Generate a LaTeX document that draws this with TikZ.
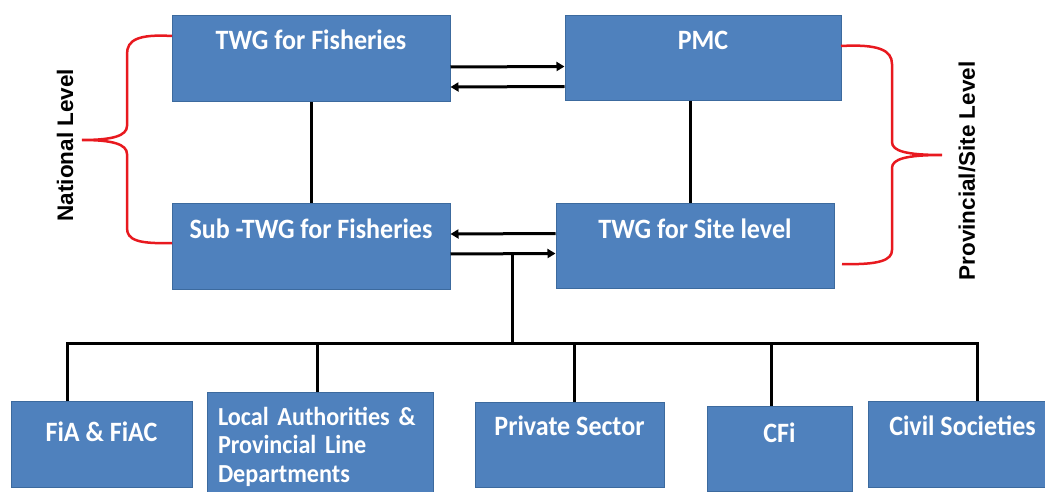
\documentclass[tikz,border=0pt]{standalone}
\usepackage{fontspec}
\usetikzlibrary{arrows.meta}
\newfontfamily\boxfont{Carlito}[FakeStretch=0.93]
\newfontfamily\lvlfont{Liberation Sans}
\definecolor{boxblue}{HTML}{4F81BD}
\definecolor{boxline}{HTML}{3C6A9E}
\definecolor{bracered}{HTML}{E8191F}
\begin{document}
\begin{tikzpicture}[x=1pt,y=-1pt,
	unit/.style={draw=boxline,line width=1pt,fill=boxblue,text=white,inner sep=0pt,anchor=base,font=\boxfont\bfseries\fontsize{28}{28.5}\selectfont},
	lvl/.style={rotate=90,font=\lvlfont\bfseries\fontsize{22.5}{24}\selectfont},
	link/.style={line width=3pt},
	flow/.style={line width=3pt,-{Triangle[length=8pt,width=9pt]}},
	brace/.style={bracered,line width=2.5pt}]
	\useasboundingbox (0,0) rectangle (1045,492);
	\node[unit,minimum width=278pt,text height=34pt,text depth=52pt] (twg) at (311,50) {TWG for Fisheries};
	\node[unit,minimum width=276pt,text height=34pt,text depth=51pt] (pmc) at (703,50) {PMC};
	\node[unit,minimum width=278pt,text height=34pt,text depth=51pt] (sub) at (311,238) {Sub -TWG for Fisheries};
	\node[unit,minimum width=278pt,text height=34pt,text depth=50pt] (site) at (695,238) {TWG for Site level};
	\node[unit,minimum width=181pt,text height=40pt,text depth=46pt] (fia) at (101.5,441) {FiA \& FiAC};
	\node[unit,font=\boxfont\bfseries\fontsize{26}{28.5}\selectfont,minimum width=226pt,text width=204pt,text height=33pt,text depth=80pt] (loc) at (320,425) {\begin{tabular}[t]{@{}l@{}}Local Authorities \&\\Provincial Line\\Departments\end{tabular}};
	\node[unit,minimum width=189pt,text height=33pt,text depth=52pt] (pri) at (569.5,435) {Private Sector};
	\node[unit,minimum width=145pt,text height=36pt,text depth=49pt] (cfi) at (779.5,442) {CFi};
	\node[unit,minimum width=189pt,text height=34pt,text depth=52pt] (civ) at (962.5,435) {Civil Societies};
	\node[lvl] (natl) at (65,145) {National Level};
	\node[lvl] (prov) at (967,171) {Provincial/Site Level};
	% links between the groups
	\draw[flow] ([yshift=-8pt]twg.east) -- ([yshift=-8pt]pmc.west);
	\draw[flow] ([yshift=-28pt]pmc.west) -- ([yshift=-28pt]twg.east);
	\draw[flow] ([yshift=12.5pt]site.west) -- ([yshift=12.5pt]sub.east);
	\draw[flow] ([yshift=-7.5pt]sub.east) -- ([yshift=-7.5pt]site.west);
	\draw[link] (twg.south) -- (sub.north);
	\draw[link] ([xshift=-13pt]pmc.south) -- ([xshift=-5pt]site.north);
	\coordinate (tap) at (512,254);
	\coordinate (hub) at (512,343);
	\draw[link] (tap) -- (hub);
	\coordinate (j1) at (67,343);
	\coordinate (j2) at (317,343);
	\coordinate (j3) at (574,343);
	\coordinate (j4) at (771,343);
	\coordinate (j5) at (977,343);
	\draw[link] (j1 |- fia.north) -- (j1) -- (j5) -- (j5 |- civ.north);
	\foreach \j/\b in {j2/loc,j3/pri,j4/cfi}
		\draw[link] (\j) -- (\j |- \b.north);
	% braces
	\draw[brace] (172,36) .. controls (138,34) and (127,40) .. (127,54) -- (127,126) .. controls (127,136) and (112,140) .. (82,140) .. controls (112,140) and (127,144) .. (127,154) -- (127,228) .. controls (127,240) and (138,244) .. (172,243);
	\draw[brace] (841,46) .. controls (878,44) and (892,50) .. (892,64) -- (892,142) .. controls (892,151) and (906,155) .. (942,155) .. controls (906,155) and (892,159) .. (892,168) -- (892,250) .. controls (892,260) and (880,265) .. (842,264);
\end{tikzpicture}
\end{document}
